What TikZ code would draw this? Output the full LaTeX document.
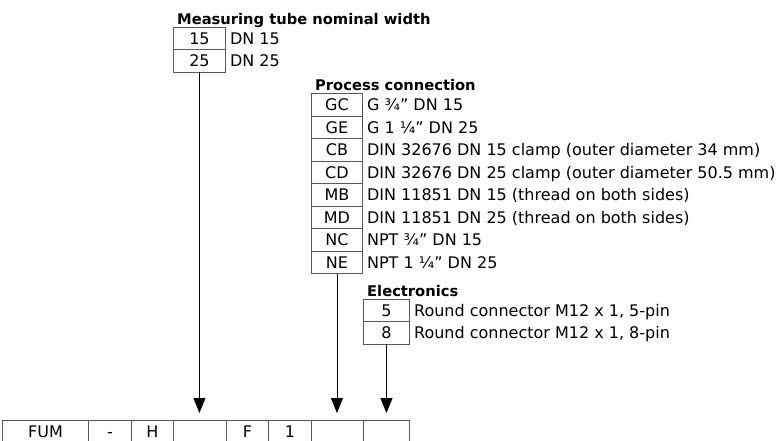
\documentclass[tikz,border=0pt]{standalone}
\usepackage{fontspec}
\setmainfont{DejaVu Sans}
\usetikzlibrary{positioning,arrows.meta}

\newcommand{\codefont}{\fontsize{16}{19}\selectfont}
\newcommand{\headfont}{\fontsize{14.7}{17}\selectfont\bfseries}

\tikzset{
	codebox/.style={draw=black!65, line width=0.9pt, minimum height=22.5pt, inner sep=0pt,
		text height=11.7pt, text depth=0pt, anchor=north west, font=\codefont},
	desc/.style={inner sep=0pt, text height=11.7pt, text depth=0pt, font=\codefont},
	heading/.style={inner sep=0pt, anchor=base west, font=\headfont},
	feed/.style={line width=0.9pt, -{Triangle[width=12pt,length=15pt]}, shorten >=7pt}
}

\begin{document}
\begin{tikzpicture}[x=1pt, y=-1pt]
	\useasboundingbox (0,0) rectangle (777,440);

	% type code row
	\foreach \x/\w/\txt [count=\i] in {2/86/FUM, 88/43/-, 131/42/H, 173/53/, 226/42/F, 268/43/1, 311/52/, 363/46/}
		\node[codebox, minimum width=\w pt] (key\i) at (\x,420) {\txt};

	% measuring tube
	\node[codebox, minimum width=52pt] (tube15) at (173,26.5) {15};
	\node[codebox, minimum width=52pt] (tube25) at (173,49) {25};
	\node[desc, right=4pt of tube15] {DN 15};
	\node[desc, right=4pt of tube25] {DN 25};
	\node[heading] at ([xshift=4pt, yshift=2.5pt]tube15.north west) {Measuring tube nominal width};

	% process connection
	\foreach \code/\txt [count=\i] in {GC/{G ¾” DN 15}, GE/{G 1 ¼” DN 25},
		CB/{DIN 32676 DN 15 clamp (outer diameter 34 mm)},
		CD/{DIN 32676 DN 25 clamp (outer diameter 50.5 mm)},
		MB/{DIN 11851 DN 15 (thread on both sides)},
		MD/{DIN 11851 DN 25 (thread on both sides)},
		NC/{NPT ¾” DN 15}, NE/{NPT 1 ¼” DN 25}}
	{
		\node[codebox, minimum width=51pt] (proc\code) at (311,{93+(\i-1)*22.5}) {\code};
		\node[desc, right=4pt of proc\code] {\txt};
	}
	\node[heading] at ([xshift=4pt, yshift=2.5pt]procGC.north west) {Process connection};

	% electronics
	\node[codebox, minimum width=46pt] (elec5) at (363,298.5) {5};
	\node[codebox, minimum width=46pt] (elec8) at (363,321) {8};
	\node[desc, right=4pt of elec5] {Round connector M12 x 1, 5-pin};
	\node[desc, right=4pt of elec8] {Round connector M12 x 1, 8-pin};
	\node[heading] at ([xshift=4pt, yshift=2.5pt]elec5.north west) {Electronics};

	\draw[feed] (tube25.south) -- (tube25.south |- key4.north);
	\draw[feed] (procNE.south) -- (procNE.south |- key7.north);
	\draw[feed] (elec8.south) -- (elec8.south |- key8.north);
\end{tikzpicture}
\end{document}
